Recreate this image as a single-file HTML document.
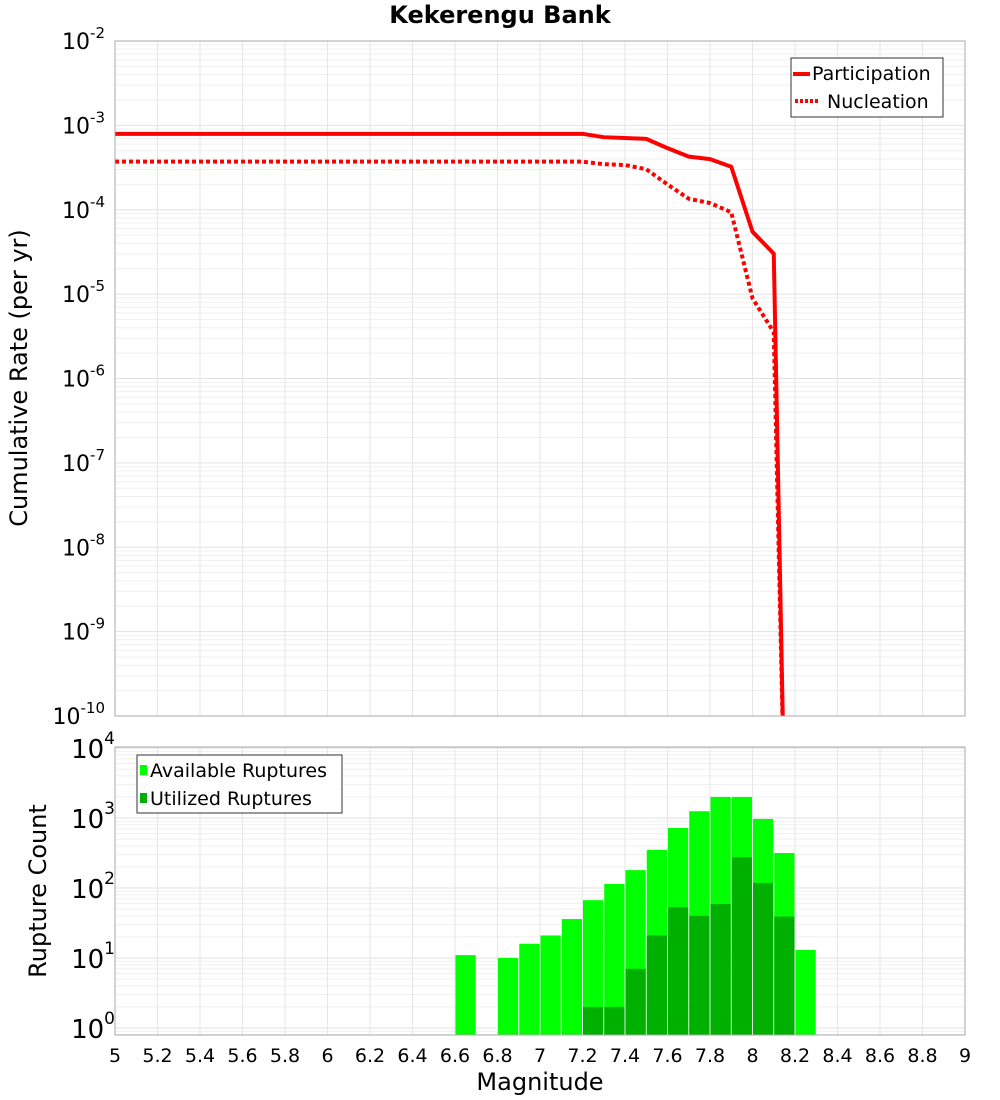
<!DOCTYPE html>
<html><head><meta charset="utf-8"><style>
body{margin:0;background:#fff}
svg{display:block;font-family:"DejaVu Sans","Liberation Sans",sans-serif}
</style></head><body>
<svg id="c" width="1000" height="1100">
<text x="500" y="23" text-anchor="middle" font-size="24" font-weight="bold">Kekerengu Bank</text>
<g id="topg"></g>
<g id="botg"></g>
<text transform="translate(27,378) rotate(-90)" text-anchor="middle" font-size="24">Cumulative Rate (per yr)</text>
<text transform="translate(46,891) rotate(-90)" text-anchor="middle" font-size="24">Rupture Count</text>
<text x="540" y="1090" text-anchor="middle" font-size="24">Magnitude</text>
</svg>
<script>
const partMags=[5,7.2,7.3,7.4,7.5,7.6,7.7,7.8,7.9,8.0,8.1,8.15];
const partLog=[-3.10,-3.10,-3.14,-3.15,-3.16,-3.27,-3.37,-3.40,-3.49,-4.26,-4.52,-11];
const nuclMags=[5,7.2,7.3,7.4,7.5,7.6,7.7,7.8,7.9,8.0,8.1,8.15];
const nuclLog=[-3.43,-3.43,-3.46,-3.47,-3.52,-3.70,-3.87,-3.92,-4.03,-5.05,-5.45,-11];
const binMags=[6.6,6.8,6.9,7.0,7.1,7.2,7.3,7.4,7.5,7.6,7.7,7.8,7.9,8.0,8.1,8.2];
const available=[11,10,16,21,36,67,114,180,350,720,1250,2000,2000,970,316,13];
const utilized=[0,0,0,0,0,2,2,7,21,53,40,59,275,118,39,0];
const xTicks=[5,5.2,5.4,5.6,5.8,6,6.2,6.4,6.6,6.8,7,7.2,7.4,7.6,7.8,8,8.2,8.4,8.6,8.8,9];
const xTickLabels=["5","5.2","5.4","5.6","5.8","6","6.2","6.4","6.6","6.8","7","7.2","7.4","7.6","7.8","8","8.2","8.4","8.6","8.8","9"];
const topDecades=[-2,-3,-4,-5,-6,-7,-8,-9,-10];
const botDecades=[0,1,2,3,4];

const NS="http://www.w3.org/2000/svg";
const X0=115,X1=965;
const xs=m=>X0+(m-5)/4*(X1-X0);
const TY0=41,TY1=716;
const yt=l=>TY0+(-2-l)/8*(TY1-TY0);
const BY0=747,BY1=1035;
const yb=l=>1028-l*70;
function el(tag,attrs,parent){const e=document.createElementNS(NS,tag);for(const k in attrs)e.setAttribute(k,attrs[k]);parent.appendChild(e);return e;}
const topG=document.getElementById('topg'),botG=document.getElementById('botg');

const defs=el('defs',{},document.getElementById('c'));
const cp1=el('clipPath',{id:'ct'},defs);el('rect',{x:X0,y:TY0,width:X1-X0,height:TY1-TY0},cp1);
const cp2=el('clipPath',{id:'cb'},defs);el('rect',{x:X0,y:BY0,width:X1-X0,height:BY1-BY0},cp2);

function grid(parent,y0,y1,yf,decs,clip){
  const g=el('g',{'clip-path':clip},parent);
  
  
  const dmin=Math.min(...decs)-1,dmax=Math.max(...decs);
  for(let d=dmin;d<=dmax;d++){for(let k=2;k<10;k++){const y=yf(d+Math.log10(k));if(y>y0&&y<y1)el('line',{x1:X0,x2:X1,y1:y,y2:y,stroke:'#efefef','stroke-width':1},g);}}
  decs.forEach(d=>{const y=yf(d);el('line',{x1:X0,x2:X1,y1:y,y2:y,stroke:'#e2e2e2','stroke-width':1},g);});
  xTicks.forEach(m=>{el('line',{x1:xs(m),x2:xs(m),y1:y0,y2:y1,stroke:'#e6e6e6','stroke-width':1},g);});
}
grid(topG,TY0,TY1,yt,topDecades,'url(#ct)');
grid(botG,BY0,BY1,yb,botDecades,'url(#cb)');

topDecades.forEach(d=>{
  const t=el('text',{x:105,y:yt(d)+8,'text-anchor':'end','font-size':22},topG);
  
  
  t.innerHTML='10<tspan dy="-11" font-size="15">'+d+'</tspan>';
});
botDecades.forEach(d=>{
  const t=el('text',{x:115,y:yb(d)+10,'text-anchor':'end','font-size':26},botG);
  
  
  t.innerHTML='10<tspan dy="-14" font-size="17">'+d+'</tspan>';
});
xTicks.forEach((m,i)=>{
  const t=el('text',{x:xs(m),y:1062,'text-anchor':'middle','font-size':19},botG);
  
  
  t.textContent=xTickLabels[i];
});

function pts(ms,ls){return ms.map((m,i)=>xs(m)+','+yt(ls[i])).join(' ');}
const lg=el('g',{'clip-path':'url(#ct)'},topG);
const p1=el('polyline',{points:pts(partMags,partLog),fill:'none',stroke:'#ff0000','stroke-width':4,'stroke-linejoin':'round'},lg);


const p2=el('polyline',{points:pts(nuclMags,nuclLog),fill:'none',stroke:'#ff0000','stroke-width':4,'stroke-dasharray':'4 3'},lg);



const bg=el('g',{'clip-path':'url(#cb)'},botG);
const bw=(X1-X0)/40;
binMags.forEach((m,i)=>{
  const x=xs(m)+0.5;
  if(available[i]>0){const y=yb(Math.log10(available[i]));
    const r=el('rect',{x:x,y:y,width:bw-1,height:BY1-y,fill:'#00ff00'},bg);
    
    }
  if(utilized[i]>0){const y=yb(Math.log10(utilized[i]));
    const r=el('rect',{x:x,y:y,width:bw-1,height:BY1-y,fill:'#00b000'},bg);
    
    }
});

el('rect',{x:X0,y:TY0,width:X1-X0,height:TY1-TY0,fill:'none',stroke:'#aaa','stroke-width':1},topG);
el('rect',{x:X0,y:BY0,width:X1-X0,height:BY1-BY0,fill:'none',stroke:'#aaa','stroke-width':1},botG);

const L1=el('g',{},topG);


el('rect',{x:791,y:58,width:152,height:59,fill:'#fff',stroke:'#333','stroke-width':1},L1);
el('line',{x1:793,x2:810,y1:74,y2:74,stroke:'#f00','stroke-width':4},L1);
el('line',{x1:795,x2:820,y1:101,y2:101,stroke:'#f00','stroke-width':4,'stroke-dasharray':'3 2'},L1);
let t=el('text',{x:812,y:80,'font-size':19},L1);t.textContent='Participation';
t=el('text',{x:827,y:108,'font-size':19},L1);t.textContent='Nucleation';
const L2=el('g',{},botG);


el('rect',{x:137,y:755,width:205,height:58,fill:'#fff',stroke:'#333','stroke-width':1},L2);
el('rect',{x:140,y:765,width:7,height:10,fill:'#00ff00'},L2);
el('rect',{x:140,y:793,width:7,height:10,fill:'#00b000'},L2);
t=el('text',{x:150,y:777,'font-size':19},L2);t.textContent='Available Ruptures';
t=el('text',{x:150,y:805,'font-size':19},L2);t.textContent='Utilized Ruptures';
</script>
</body></html>
